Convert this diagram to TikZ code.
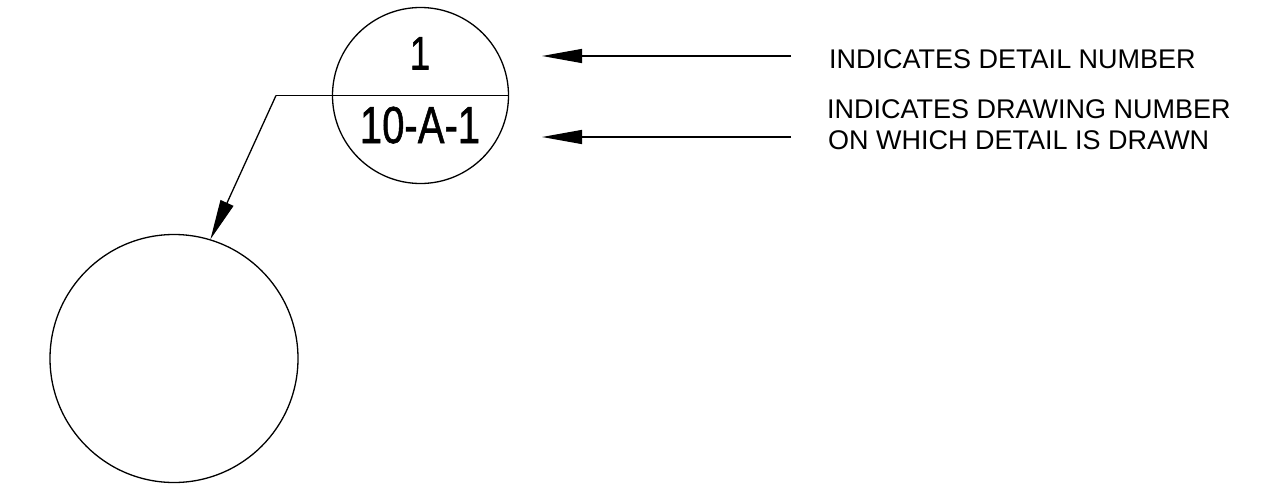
\documentclass[tikz,border=0pt]{standalone}
\usepackage{fontspec}
\setmainfont{Liberation Sans}
\newfontfamily\cadfont[FakeBold=1.2]{Liberation Sans}
\usetikzlibrary{arrows.meta}
\begin{document}
\begin{tikzpicture}[x=1pt,y=1pt,
  ln/.style={line width=1.3pt,black},
  cadarrow/.style={ln,-{Triangle[length=40pt,width=14pt]}},
  label/.style={inner sep=0pt,anchor=base west,font=\fontsize{27}{31}\selectfont},
  ctext/.style={inner sep=0pt,anchor=base,xscale=0.77}]
\useasboundingbox (0,0) rectangle (1274,-487);
\node[ln,draw,circle,minimum size=176pt,inner sep=0pt] (det) at (420.5,-95.5) {};
\node[ln,draw,circle,minimum size=248pt,inner sep=0pt] (big) at (174,-358.5) {};
\coordinate (lead) at (276,-95.5);
\draw[ln] (lead) -- (det.east);
\draw[cadarrow] (lead) -- (big.73);
\node[ctext,font=\cadfont\fontsize{47}{50}\selectfont] (num) at (420,-69.5) {1};
\node[ctext,font=\cadfont\fontsize{52}{55}\selectfont] (dwg) at (420,-143) {10-A-1};
\coordinate (a1s) at (791,-56);
\coordinate (a1e) at (542,-56);
\coordinate (a2s) at (791,-137);
\coordinate (a2e) at (542,-137);
\draw[cadarrow] (a1s) -- (a1e);
\draw[cadarrow] (a2s) -- (a2e);
\node[label] (t1) at (829,-69) {INDICATES DETAIL NUMBER};
\node[label] (t2) at (827,-118) {INDICATES DRAWING NUMBER};
\node[label] (t3) at (828,-149) {ON WHICH DETAIL IS DRAWN};
\end{tikzpicture}
\end{document}
